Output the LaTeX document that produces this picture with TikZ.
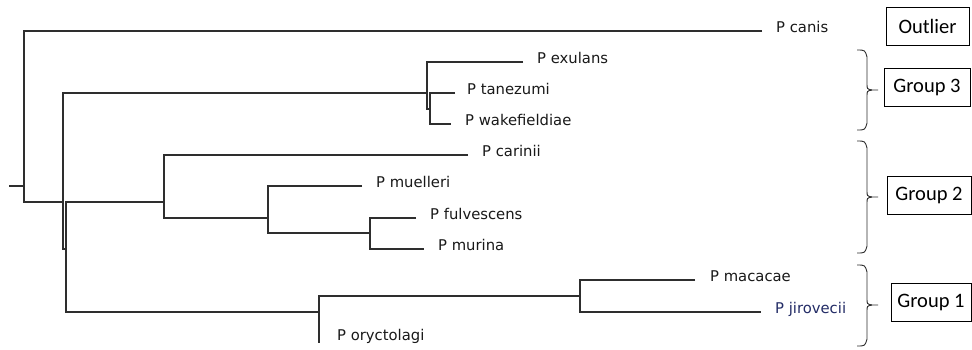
\documentclass[tikz,border=0pt]{standalone}
\usepackage{fontspec}
\setmainfont{DejaVu Sans}
\newfontfamily\boxfont{Carlito}
\usetikzlibrary{positioning}

\definecolor{branchgray}{HTML}{2E2E2E}
\definecolor{linkblue}{HTML}{232C66}

% curly brace on the right of a clade: top, middle, bottom
\newcommand{\grpbrace}[3]{%
  \draw[brace] (857,#1) .. controls (865,#1) .. (867,{#1+7}) -- (867,{#2-6})
      .. controls (867,{#2-1}) .. (872,#2) -- (878,#2);
  \draw[brace] (857,#3) .. controls (865,#3) .. (867,{#3-7}) -- (867,{#2+6})
      .. controls (867,{#2+1}) .. (872,#2);
}

\begin{document}
\begin{tikzpicture}[
    x = 1pt, y = -1pt,
    node distance = 14pt,
    branch/.style = {draw=branchgray, line width=1.2pt},
    leaf/.style = {inner sep=0pt, text height=11pt, text depth=3pt, yshift=3pt,
                   font=\fontsize{14.8}{16}\selectfont, text=black!90},
    grpbox/.style = {rectangle, draw, line width=0.9pt, minimum height=38pt, inner sep=0pt,
                     font=\boxfont\fontsize{20.5}{24}\selectfont},
    brace/.style = {draw=branchgray, line width=0.9pt}
]
\fill[white] (0,0) rectangle (972,349);
\useasboundingbox (0,0) rectangle (972,349);

% Internal nodes
\coordinate (stub) at (9,186);
\coordinate (n-root) at (24,186);
\coordinate (n-a) at (63,202);
\coordinate (n-b) at (66,249);
\coordinate (n-g3) at (427,93);
\coordinate (n-tw) at (430,109);
\coordinate (n-g2) at (164,202);
\coordinate (n-mfm) at (268,218);
\coordinate (n-fm) at (370,233);
\coordinate (n-g1) at (319,312);
\coordinate (n-mj) at (580,296);

% Branch tips
\coordinate (t-canis) at (762,31);
\coordinate (t-exulans) at (523,62);
\coordinate (t-tanezumi) at (455,93);
\coordinate (t-wakefieldiae) at (451,124);
\coordinate (t-carinii) at (468,155);
\coordinate (t-muelleri) at (362,186);
\coordinate (t-fulvescens) at (416,218);
\coordinate (t-murina) at (424,249);
\coordinate (t-macacae) at (695,280);
\coordinate (t-jirovecii) at (761,312);
\coordinate (t-oryctolagi) at (319,343);

% Species labels
\node[leaf, right=of t-canis] (canis) {P canis};
\node[leaf, right=of t-exulans] (exulans) {P exulans};
\node[leaf, right=12pt of t-tanezumi] (tanezumi) {P tanezumi};
\node[leaf, right=of t-wakefieldiae] (wakefieldiae) {P wakefieldiae};
\node[leaf, right=of t-carinii] (carinii) {P carinii};
\node[leaf, right=of t-muelleri] (muelleri) {P muelleri};
\node[leaf, right=of t-fulvescens] (fulvescens) {P fulvescens};
\node[leaf, right=of t-murina] (murina) {P murina};
\node[leaf, right=15pt of t-macacae] (macacae) {P macacae};
\node[leaf, right=of t-jirovecii, text=linkblue] (jirovecii) {P jirovecii};
\node[leaf, right=18pt of t-oryctolagi, yshift=4pt] (oryctolagi) {P oryctolagi};

% Tree
\draw[branch] (stub) -- (n-root);
\draw[branch] (t-canis) -| (n-root) |- (n-a);
\draw[branch] (n-g3) -| (n-a) |- (n-b);
\draw[branch] (n-g2) -| (n-b) |- (n-g1);
\draw[branch] (t-exulans) -| (n-g3) |- (n-tw);
\draw[branch] (t-tanezumi) -| (n-tw) |- (t-wakefieldiae);
\draw[branch] (t-carinii) -| (n-g2) |- (n-mfm);
\draw[branch] (t-muelleri) -| (n-mfm) |- (n-fm);
\draw[branch] (t-fulvescens) -| (n-fm) |- (t-murina);
\draw[branch] (n-mj) -| (n-g1) |- (t-oryctolagi);
\draw[branch] (t-macacae) -| (n-mj) |- (t-jirovecii);

% Groups
\node[grpbox, minimum width=83pt] (outlier) at (927.5,26) {Outlier};
\node[grpbox, minimum width=86pt] (grp3) at (927,87) {Group 3};
\node[grpbox, minimum width=84pt] (grp2) at (929,195.5) {Group 2};
\node[grpbox, minimum width=80pt] (grp1) at (931,302.5) {Group 1};

\grpbrace{50}{90}{130}
\grpbrace{141}{197}{253}
\grpbrace{265}{305}{346}

\end{tikzpicture}
\end{document}
